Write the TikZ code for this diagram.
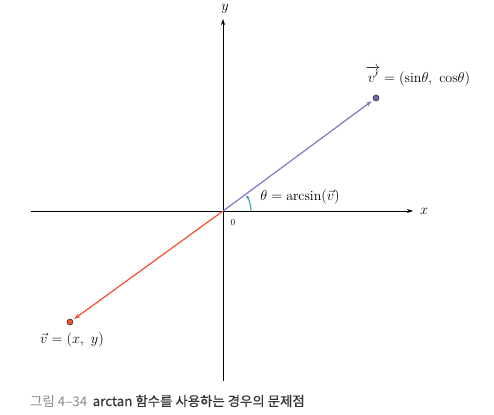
\documentclass[tikz,border=0pt]{standalone}
\usepackage{fontspec}
\usepackage{amsmath}
\newfontfamily\kr{Noto Sans CJK KR}
\newfontfamily\krb[FakeBold=0.4]{Noto Sans CJK KR}
\usetikzlibrary{arrows.meta}
\definecolor{vpurple}{HTML}{8A72CC}
\definecolor{vred}{HTML}{F0502E}
\definecolor{vteal}{HTML}{2A9BB0}
\definecolor{capgray}{HTML}{8A8A8A}
\definecolor{captext}{HTML}{333333}
\tikzset{
  axis/.style={-{Stealth[length=6pt,width=4pt]}, line width=0.8pt, black},
  vecline/.style={-{Stealth[length=6pt,width=4.5pt]}, line width=1.2pt},
  dotp/.style={circle, inner sep=0pt, minimum size=6pt, draw=black!80, line width=0.6pt},
  lbl/.style={inner sep=1pt, font=\fontsize{14}{16}\selectfont},
}
\begin{document}
\begin{tikzpicture}[x=1pt,y=-1pt]
\useasboundingbox (0,0) rectangle (494,414);
\coordinate (O) at (223,211);
\coordinate (xs) at (31,211);
\coordinate (xe) at (413,211);
\coordinate (ys) at (223,381);
\coordinate (ye) at (223,19);
\draw[axis] (xs) -- (xe);
\draw[axis] (ys) -- (ye);
\node[lbl] (xl) at (424,211) {$x$};
\node[lbl] (yl) at (225,9) {$y$};
\node[lbl, font=\fontsize{9}{10}\selectfont] (zero) at (233,223) {0};
% purple vector
\node[dotp, fill=vpurple!85!black] (P) at (376,98) {};
\draw[vecline, vpurple, shorten >=2pt] (O) -- (P);
% red vector
\node[dotp, fill=vred] (R) at (70,322) {};
\draw[vecline, vred, shorten >=2pt] (O) -- (R);
% angle arc
\draw[vteal, line width=1pt, -{Stealth[length=4pt,width=3.5pt]}] (251,211) arc[start angle=0, end angle=-34, radius=28];
\node[lbl] (th) at (300,197) {$\theta = \mathrm{arcsin}(\vec{v})$};
\node[lbl] (pl) at (418,76) {$\overrightarrow{v'} = (\mathrm{sin}\theta,\ \mathrm{cos}\theta)$};
\node[lbl] (rl) at (72,340) {$\vec{v} = (x,\ y)$};
\node[anchor=west, inner sep=0pt, font=\fontsize{13.4}{15}\selectfont] (cap) at (30,401) {\kr\textcolor{capgray}{그림 4–34}\hspace{0.4em}\krb\textcolor{captext}{arctan 함수를 사용하는 경우의 문제점}};
\end{tikzpicture}
\end{document}
